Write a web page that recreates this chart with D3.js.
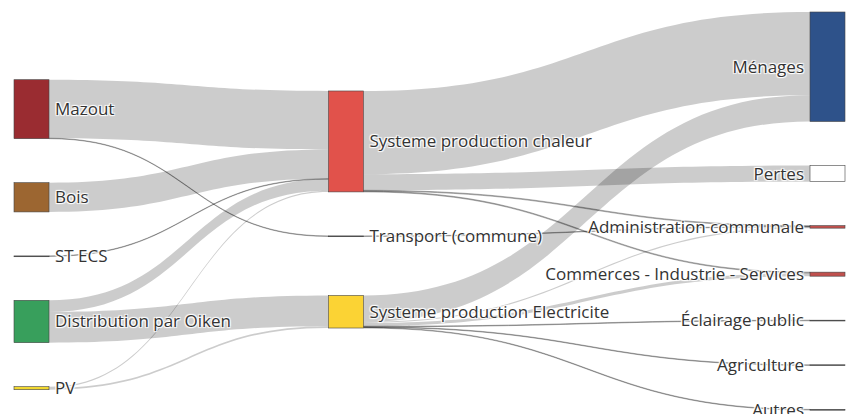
<!DOCTYPE html>
<html><head><meta charset="utf-8">
<script src="https://cdn.jsdelivr.net/npm/d3@7"></script>
<style>
html,body{margin:0;padding:0;background:#fff;}
svg{display:block;}
.lbl{font-family:"Open Sans",sans-serif;font-size:17px;fill:#333;
 text-shadow:1px 1px 1px #fff,-1px -1px 1px #fff,1px -1px 1px #fff,-1px 1px 1px #fff;}
</style></head><body>
<svg id="chart" width="848" height="414"></svg>
<script>
// ---------- data ----------
const nodeNames = ["Mazout","Bois","ST ECS","Distribution par Oiken","PV",
  "Systeme production chaleur","Transport (commune)","Systeme production Electricite",
  "Ménages","Pertes","Administration communale","Commerces - Industrie - Services",
  "Éclairage public","Agriculture","Autres"];
const nodeColors = ["#9a2c31","#9c6631","#555555","#389f5c","#f2d830",
  "#e1524b","#555555","#fbd334",
  "#2e528a","#ffffff","#c0504d","#c0504d","#555555","#555555","#555555"];
const linkSources = ["Mazout","Mazout","Bois","ST ECS","Distribution par Oiken","Distribution par Oiken","PV","PV",
  "Systeme production chaleur","Systeme production chaleur","Systeme production chaleur","Systeme production chaleur",
  "Transport (commune)",
  "Systeme production Electricite","Systeme production Electricite","Systeme production Electricite",
  "Systeme production Electricite","Systeme production Electricite","Systeme production Electricite"];
const linkTargets = ["Systeme production chaleur","Transport (commune)","Systeme production chaleur","Systeme production chaleur",
  "Systeme production chaleur","Systeme production Electricite","Systeme production chaleur","Systeme production Electricite",
  "Ménages","Pertes","Administration communale","Commerces - Industrie - Services",
  "Administration communale",
  "Ménages","Administration communale","Commerces - Industrie - Services",
  "Éclairage public","Agriculture","Autres"];
const linkValues = [58, 0.5, 29, 0.4, 11.5, 30.5, 1.2, 1.8,
  82.5, 16, 0.8, 0.8,
  0.5,
  26.1, 1.2, 3.2, 0.6, 0.6, 0.6];

// ---------- layout settings ----------
const W = 848, H = 414;
const margin = {left: 14, right: 3, top: 12, bottom: 4};
const nodeWidth = 35, nodePadding = 44, iterations = 50;
const columnFraction = [0, 0.395, 1];

const svg = d3.select("#chart");

const nodes = nodeNames.map((name, i) => ({name, index: i, color: nodeColors[i], sourceLinks: [], targetLinks: []}));
const byName = new Map(nodes.map(n => [n.name, n]));
const links = linkValues.map((v, i) => {
  const l = {index: i, source: byName.get(linkSources[i]), target: byName.get(linkTargets[i]), value: v};
  l.source.sourceLinks.push(l); l.target.targetLinks.push(l);
  return l;
});
nodes.forEach(n => n.value = Math.max(d3.sum(n.sourceLinks, l => l.value), d3.sum(n.targetLinks, l => l.value)));

nodes.forEach(n => n.depth = 0);
let changed = true;
while (changed) {
  changed = false;
  links.forEach(l => { if (l.target.depth < l.source.depth + 1) { l.target.depth = l.source.depth + 1; changed = true; } });
}
const maxDepth = d3.max(nodes, n => n.depth);
nodes.forEach(n => { if (!n.sourceLinks.length) n.depth = maxDepth; });

const x = d3.scaleLinear().domain([0, 1]).range([margin.left, W - margin.right - nodeWidth]);
nodes.forEach(n => { n.x0 = x(columnFraction[n.depth]); n.x1 = n.x0 + nodeWidth; });

const y0 = margin.top, y1 = H - margin.bottom;
const columns = d3.range(maxDepth + 1).map(d => nodes.filter(n => n.depth === d));
const ky = d3.min(columns, c => (y1 - y0 - (c.length - 1) * nodePadding) / d3.sum(c, n => n.value));
const vScale = d3.scaleLinear().domain([0, 1]).range([0, ky]);

columns.forEach(c => c.forEach((n, i) => { n.y0 = i; n.y1 = i + vScale(n.value); }));
links.forEach(l => l.width = vScale(l.value));
const center = n => (n.y0 + n.y1) / 2;

// node order inside each column is kept as given
function resolveCollisions() {
  columns.forEach(c => {
    let y = y0, node, dy, i;
    for (i = 0; i < c.length; ++i) {
      node = c[i]; dy = y - node.y0;
      if (dy > 0) { node.y0 += dy; node.y1 += dy; }
      y = node.y1 + nodePadding;
    }
    dy = y - nodePadding - y1;
    if (dy > 0) {
      node.y0 -= dy; node.y1 -= dy; y = node.y0;
      for (i = c.length - 2; i >= 0; --i) {
        node = c[i]; dy = node.y1 + nodePadding - y;
        if (dy > 0) { node.y0 -= dy; node.y1 -= dy; }
        y = node.y0;
      }
    }
  });
}
function relaxLeftToRight(alpha) {
  columns.forEach(c => c.forEach(n => {
    if (n.targetLinks.length) {
      const dy = (d3.sum(n.targetLinks, l => center(l.source) * l.value) / d3.sum(n.targetLinks, l => l.value) - center(n)) * alpha;
      n.y0 += dy; n.y1 += dy;
    }
  }));
}
function relaxRightToLeft(alpha) {
  columns.slice().reverse().forEach(c => c.forEach(n => {
    if (n.sourceLinks.length) {
      const dy = (d3.sum(n.sourceLinks, l => center(l.target) * l.value) / d3.sum(n.sourceLinks, l => l.value) - center(n)) * alpha;
      n.y0 += dy; n.y1 += dy;
    }
  }));
}
resolveCollisions();
for (let alpha = 1, k = iterations; k > 0; --k) {
  relaxRightToLeft(alpha *= 0.99); resolveCollisions();
  relaxLeftToRight(alpha); resolveCollisions();
}
nodes.forEach(n => {
  n.sourceLinks.sort((a, b) => (a.target.y0 - b.target.y0) || (a.index - b.index));
  n.targetLinks.sort((a, b) => (a.source.y0 - b.source.y0) || (a.index - b.index));
});
nodes.forEach(n => {
  let y = n.y0;
  n.sourceLinks.forEach(l => { l.ys = y + l.width / 2; y += l.width; });
  y = n.y0;
  n.targetLinks.forEach(l => { l.yt = y + l.width / 2; y += l.width; });
});

function linkPath(l) {
  const xa = l.source.x1, xb = l.target.x0, xi = d3.interpolateNumber(xa, xb);
  const c = xi(0.5);
  const w = Math.max(0.5, l.width) / 2;
  return `M${xa},${l.ys - w}C${c},${l.ys - w} ${c},${l.yt - w} ${xb},${l.yt - w}` +
         `L${xb},${l.yt + w}C${c},${l.yt + w} ${c},${l.ys + w} ${xa},${l.ys + w}Z`;
}

svg.append("g").selectAll("path").data(links).join("path")
  .attr("d", linkPath)
  .attr("fill", "rgba(0,0,0,0.2)")
  .attr("stroke", d => d.width < 1 ? "rgba(0,0,0,0.35)" : "none")
  .attr("stroke-width", 0.8);

const gn = svg.append("g").selectAll("g").data(nodes).join("g");
gn.append("rect")
  .attr("x", d => d.x0).attr("width", nodeWidth)
  .attr("y", d => d.y0).attr("height", d => Math.max(0.8, d.y1 - d.y0))
  .attr("fill", d => d.color)
  .attr("stroke", "#444").attr("stroke-width", 0.6);
gn.append("text").attr("class", "lbl")
  .attr("x", d => d.depth === maxDepth ? d.x0 - 6 : d.x1 + 6)
  .attr("y", d => center(d))
  .attr("dy", "0.35em")
  .attr("text-anchor", d => d.depth === maxDepth ? "end" : "start")
  .text(d => d.name);
</script>
</body></html>
